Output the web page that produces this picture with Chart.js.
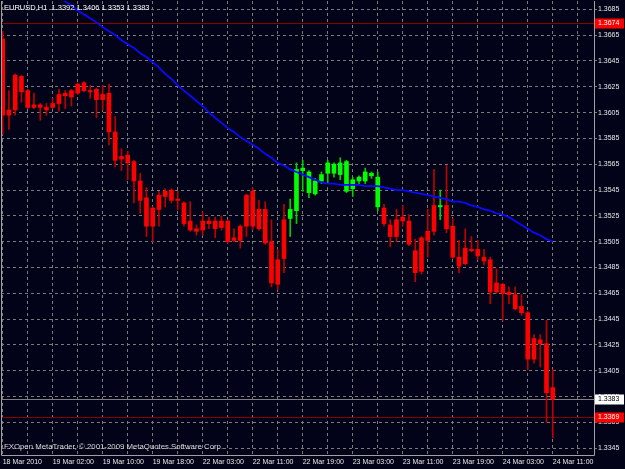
<!DOCTYPE html>
<html>
<head>
<meta charset="utf-8">
<script src="https://cdn.jsdelivr.net/npm/chart.js@4"></script>
<style>
  html, body { margin: 0; padding: 0; background: #020218; }
</style>
</head>
<body>
<canvas id="chart" width="625" height="469"></canvas>
<script>
// time labels, one every 8 hourly bars (bar 0 = 18 Mar 18:00)
const timeLabels = ['18 Mar 2010', '19 Mar 02:00', '19 Mar 10:00', '19 Mar 18:00', '22 Mar 03:00', '22 Mar 11:00',
  '22 Mar 19:00', '23 Mar 03:00', '23 Mar 11:00', '23 Mar 19:00', '24 Mar 03:00', '24 Mar 11:00'];
const priceTicks = [1.3345, 1.3365, 1.3385, 1.3405, 1.3425, 1.3445, 1.3465, 1.3485, 1.3505,
  1.3525, 1.3545, 1.3565, 1.3585, 1.3605, 1.3625, 1.3645, 1.3665, 1.3685];

const open = [1.3662, 1.3607, 1.3634, 1.3633, 1.3622, 1.3611, 1.3611, 1.3609, 1.3612, 1.3619,
  1.3620, 1.3622, 1.3627, 1.3628, 1.3622, 1.3623, 1.3619, 1.3620, 1.3590, 1.3571,
  1.3572, 1.3567, 1.3552, 1.3539, 1.3531, 1.3541, 1.3544, 1.3545, 1.3538, 1.3535,
  1.3521, 1.3515, 1.3521, 1.3521, 1.3521, 1.3521, 1.3521, 1.3508, 1.3517, 1.3541,
  1.3544, 1.3530, 1.3530, 1.3505, 1.3491, 1.3522, 1.3523, 1.3529, 1.3560, 1.3543,
  1.3542, 1.3552, 1.3558, 1.3558, 1.3557, 1.3544, 1.3546, 1.3552, 1.3552, 1.3556,
  1.3532, 1.3531, 1.3518, 1.3522, 1.3524, 1.3521, 1.3498, 1.3508, 1.3513, 1.3533,
  1.3532, 1.3533, 1.3517, 1.3493, 1.3500, 1.3499, 1.3499, 1.3493, 1.3491, 1.3473,
  1.3472, 1.3466, 1.3464, 1.3455, 1.3450, 1.3430, 1.3429, 1.3426, 1.3392];
const high = [1.3668, 1.3622, 1.3635, 1.3634, 1.3623, 1.3620, 1.3612, 1.3612, 1.3616, 1.3623,
  1.3622, 1.3623, 1.3628, 1.3629, 1.3626, 1.3624, 1.3626, 1.3627, 1.3602, 1.3577,
  1.3575, 1.3568, 1.3558, 1.3547, 1.3532, 1.3544, 1.3546, 1.3546, 1.3544, 1.3536,
  1.3536, 1.3518, 1.3528, 1.3524, 1.3524, 1.3525, 1.3522, 1.3515, 1.3518, 1.3542,
  1.3547, 1.3537, 1.3536, 1.3522, 1.3499, 1.3534, 1.3538, 1.3566, 1.3568, 1.3560,
  1.3554, 1.3559, 1.3568, 1.3566, 1.3570, 1.3568, 1.3555, 1.3556, 1.3562, 1.3559,
  1.3559, 1.3534, 1.3522, 1.3530, 1.3533, 1.3526, 1.3507, 1.3509, 1.3530, 1.3561,
  1.3545, 1.3564, 1.3523, 1.3506, 1.3515, 1.3509, 1.3506, 1.3499, 1.3493, 1.3484,
  1.3473, 1.3470, 1.3470, 1.3464, 1.3451, 1.3433, 1.3433, 1.3444, 1.3406];
const low = [1.3588, 1.3592, 1.3603, 1.3613, 1.3608, 1.3608, 1.3599, 1.3603, 1.3608, 1.3606,
  1.3608, 1.3610, 1.3619, 1.3621, 1.3616, 1.3601, 1.3607, 1.3580, 1.3563, 1.3560,
  1.3553, 1.3535, 1.3527, 1.3509, 1.3505, 1.3517, 1.3532, 1.3535, 1.3530, 1.3517,
  1.3513, 1.3510, 1.3510, 1.3515, 1.3508, 1.3514, 1.3504, 1.3505, 1.3500, 1.3509,
  1.3514, 1.3514, 1.3503, 1.3470, 1.3468, 1.3481, 1.3509, 1.3519, 1.3544, 1.3539,
  1.3541, 1.3550, 1.3550, 1.3555, 1.3553, 1.3543, 1.3540, 1.3550, 1.3550, 1.3554,
  1.3529, 1.3517, 1.3501, 1.3505, 1.3517, 1.3502, 1.3474, 1.3480, 1.3493, 1.3510,
  1.3522, 1.3512, 1.3492, 1.3481, 1.3487, 1.3497, 1.3491, 1.3487, 1.3457, 1.3465,
  1.3444, 1.3457, 1.3452, 1.3448, 1.3406, 1.3411, 1.3408, 1.3365, 1.3353];
const close = [1.3603, 1.3603, 1.3607, 1.3621, 1.3609, 1.3609, 1.3609, 1.3607, 1.3609, 1.3612,
  1.3618, 1.3617, 1.3620, 1.3622, 1.3621, 1.3615, 1.3615, 1.3590, 1.3568, 1.3569,
  1.3566, 1.3552, 1.3537, 1.3517, 1.3517, 1.3530, 1.3540, 1.3537, 1.3537, 1.3519,
  1.3514, 1.3513, 1.3514, 1.3519, 1.3515, 1.3516, 1.3505, 1.3506, 1.3506, 1.3517,
  1.3517, 1.3515, 1.3504, 1.3473, 1.3472, 1.3492, 1.3530, 1.3561, 1.3562, 1.3559,
  1.3552, 1.3557, 1.3566, 1.3565, 1.3566, 1.3567, 1.3553, 1.3555, 1.3559, 1.3558,
  1.3555, 1.3519, 1.3509, 1.3509, 1.3521, 1.3503, 1.3481, 1.3482, 1.3506, 1.3513,
  1.3533, 1.3515, 1.3493, 1.3486, 1.3488, 1.3498, 1.3494, 1.3490, 1.3466, 1.3466,
  1.3465, 1.3464, 1.3453, 1.3450, 1.3414, 1.3414, 1.3426, 1.3388, 1.3383];
// moving average (blue line), off the top of the chart before bar 9
const ma = [null, null, null, null, null, null, null, null, null, 1.3694,
  1.3691, 1.3688, 1.3684, 1.3681, 1.3678, 1.3675, 1.3671, 1.3668, 1.3665, 1.3661,
  1.3658, 1.3655, 1.3651, 1.3648, 1.3644, 1.3640, 1.3635, 1.3631, 1.3626, 1.3622,
  1.3618, 1.3614, 1.3610, 1.3605, 1.3601, 1.3597, 1.3593, 1.3590, 1.3586, 1.3583,
  1.3580, 1.3577, 1.3573, 1.3570, 1.3566, 1.3564, 1.3561, 1.3559, 1.3557, 1.3555,
  1.3553, 1.3551, 1.3550, 1.3550, 1.3549, 1.3549, 1.3549, 1.3549, 1.3548, 1.3548,
  1.3548, 1.3547, 1.3546, 1.3545, 1.3545, 1.3544, 1.3543, 1.3542, 1.3541, 1.3540,
  1.3539, 1.3538, 1.3536, 1.3536, 1.3535, 1.3533, 1.3532, 1.3530, 1.3529, 1.3527,
  1.3526, 1.3524, 1.3521, 1.3518, 1.3515, 1.3512, 1.3510, 1.3507, 1.3505];
// price lines: high line, bid line, low line
const priceLines = [1.3674, 1.3383, 1.3369];
const priceLineStyle = [
  { line: '#8c0000', box: '#ff0000', text: '#ffffff' },
  { line: '#808080', box: '#ffffff', text: '#000000' },
  { line: '#8c0000', box: '#ff0000', text: '#ffffff' }
];
const titleText = 'EURUSD,H1  1.3392 1.3406 1.3353 1.3383';
const footText = 'FXOpen MetaTrader, \u00a9 2001-2009 MetaQuotes Software Corp.';

const BG = '#020218';
const GRID = '#7a7a7a';
const FONT = '"Liberation Sans", Arial, sans-serif';

const up = open.map((o, i) => close[i] >= o);
const bodyColors = up.map(u => u ? '#00ff00' : '#ff0000');
const wickColors = up.map(u => u ? '#00d000' : '#c00000');

const bodies = open.map((o, i) => ({ x: i, y: [o, close[i]] }));
const wicks = low.map((l, i) => ({ x: i, y: [l, high[i]] }));
const maPoints = ma.map((v, i) => ({ x: i, y: v }));

const mtOverlay = {
  id: 'mtOverlay',
  beforeDraw(chart) {
    const ctx = chart.ctx;
    ctx.save();
    ctx.fillStyle = BG;
    ctx.fillRect(0, 0, chart.width, chart.height);
    ctx.restore();
  },
  beforeDatasetsDraw(chart) {
    const { ctx, chartArea: a, scales: { y } } = chart;
    ctx.save();
    priceLines.forEach((p, i) => {
      const py = Math.round(y.getPixelForValue(p)) + 0.5;
      ctx.strokeStyle = priceLineStyle[i].line;
      ctx.lineWidth = 1;
      ctx.beginPath();
      ctx.moveTo(a.left, py);
      ctx.lineTo(a.right, py);
      ctx.stroke();
    });
    ctx.restore();
  },
  afterDraw(chart) {
    const { ctx, chartArea: a, scales: { y } } = chart;
    ctx.save();
    // frame
    ctx.strokeStyle = '#a0a0a0';
    ctx.lineWidth = 1;
    ctx.beginPath();
    ctx.moveTo(a.left + 0.5, a.top);
    ctx.lineTo(a.left + 0.5, a.bottom + 0.5);
    ctx.lineTo(a.right + 0.5, a.bottom + 0.5);
    ctx.lineTo(a.right + 0.5, a.top);
    ctx.stroke();
    // price boxes on the axis
    ctx.font = '7px ' + FONT;
    ctx.textBaseline = 'middle';
    priceLines.forEach((p, i) => {
      const py = Math.round(y.getPixelForValue(p));
      ctx.fillStyle = priceLineStyle[i].box;
      ctx.fillRect(a.right + 1, py - 4.5, 29, 10);
      ctx.fillStyle = priceLineStyle[i].text;
      ctx.fillText(p.toFixed(4), a.right + 4, py + 0.5);
    });
    // symbol / copyright text
    ctx.fillStyle = '#ffffff';
    ctx.font = '7.5px ' + FONT;
    ctx.fillText(titleText, 4, 8);
    ctx.fillStyle = '#d8d8d8';
    ctx.font = '7.8px ' + FONT;
    ctx.fillText(footText, 4, 447);
    ctx.restore();
  }
};

new Chart(document.getElementById('chart'), {
  type: 'bar',
  data: {
    datasets: [
      {
        type: 'line',
        data: maPoints,
        borderColor: '#0a0aff',
        borderWidth: 1.8,
        pointRadius: 0,
        tension: 0,
        spanGaps: false
      },
      {
        data: bodies,
        backgroundColor: bodyColors,
        barThickness: 4,
        grouped: false
      },
      {
        data: wicks,
        backgroundColor: wickColors,
        barThickness: 1,
        grouped: false
      }
    ]
  },
  options: {
    responsive: false,
    animation: false,
    layout: { padding: { left: 1, top: 1, right: 0, bottom: 0 } },
    plugins: { legend: { display: false }, tooltip: { enabled: false } },
    scales: {
      x: {
        type: 'linear',
        offset: false,
        min: -0.27,
        max: 94.6,
        afterBuildTicks(s) {
          const t = [];
          for (let v = 0; v <= 92; v += 4) t.push({ value: v });
          s.ticks = t;
        },
        afterFit(s) { s.height = 14; s.paddingLeft = 0; s.paddingRight = 0; },
        grid: { offset: false, color: GRID, drawTicks: false, lineWidth: 1 },
        border: { display: false, dash: [3, 3] },
        ticks: {
          autoSkip: false,
          maxRotation: 0,
          align: 'start',
          padding: 3,
          color: '#e8e8e8',
          font: { family: FONT, size: 7 },
          callback: v => (v % 8 === 0 && timeLabels[v / 8]) ? timeLabels[v / 8] : ''
        }
      },
      y: {
        type: 'linear',
        position: 'right',
        min: 1.33398,
        max: 1.36914,
        afterBuildTicks(s) { s.ticks = priceTicks.map(v => ({ value: v })); },
        afterFit(s) { s.width = 31; s.paddingTop = 0; s.paddingBottom = 0; },
        grid: { color: GRID, drawTicks: true, tickLength: 3, lineWidth: 1 },
        border: { display: false, dash: [3, 3] },
        ticks: {
          padding: 1,
          color: '#e8e8e8',
          font: { family: FONT, size: 7 },
          callback: v => v.toFixed(4)
        }
      }
    }
  },
  plugins: [mtOverlay]
});
</script>
</body>
</html>
